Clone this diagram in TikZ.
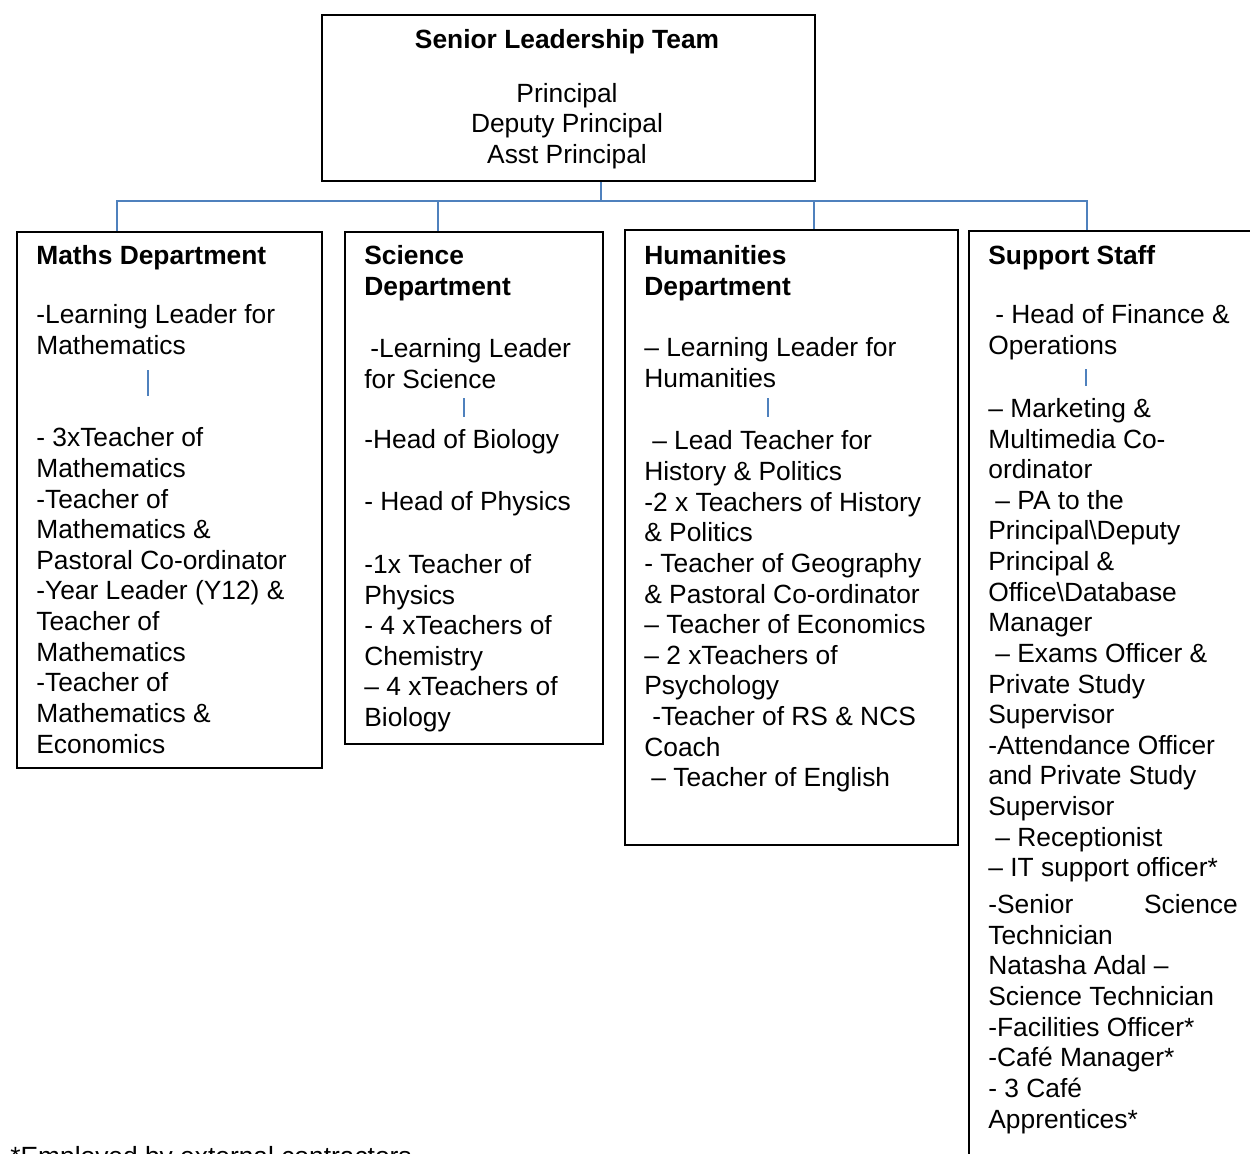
\documentclass[tikz,border=0pt]{standalone}
\usepackage{fontspec}
\setmainfont{Liberation Sans}
\usetikzlibrary{calc, positioning}
\definecolor{linkblue}{HTML}{4F81BD}

\begin{document}
\begin{tikzpicture}[%
    x=0.02cm, y=-0.02cm,     % one unit = one pixel of the layout
    every node/.style={font=\fontsize{15pt}{17.43pt}\selectfont},
    box/.style={draw, line width=1.4pt, anchor=north west, inner sep=0pt},
    txt/.style={anchor=base west, align=left, inner sep=0pt}, % placed at the LAST baseline
    head/.style={txt, font=\fontsize{15pt}{17.43pt}\selectfont\bfseries},
    link/.style={draw=linkblue, line width=1.1pt},
    ]

\useasboundingbox (0,0) rectangle (1250,1153);

%==================================================
% Boxes
%==================================================
\node[box, minimum width=9.86cm, minimum height=3.32cm]  (slt)  at (321,14)  {};
\node[box, minimum width=6.10cm, minimum height=10.72cm] (maths) at (16,231)  {};
\node[box, minimum width=5.16cm, minimum height=10.24cm] (sci)   at (344,231) {};
\node[box, minimum width=6.66cm, minimum height=12.30cm] (hum)   at (624,229) {};
\node[box, minimum width=5.88cm, minimum height=18.90cm] (supp)  at (968,230) {};

%==================================================
% Senior leadership team
%==================================================
\node[anchor=base, font=\fontsize{15pt}{17.43pt}\selectfont\bfseries] (sltT) at (567,48.5) {Senior Leadership Team};
\node[anchor=base, align=center, inner sep=0pt] (sltL) at (567,163.5) {Principal\\ Deputy Principal\\ Asst Principal};

%==================================================
% Maths
%==================================================
\node[head] (mathsT) at (36,264.5) {Maths Department};
\node[txt] (mathsA) at (36,354.25) {-Learning Leader for\\ Mathematics};
\node[txt] (mathsB) at (36,753) {- 3xTeacher of\\ Mathematics\\ -Teacher of\\ Mathematics \&\\ Pastoral Co-ordinator\\ -Year Leader (Y12) \&\\ Teacher of\\ Mathematics\\ -Teacher of\\ Mathematics \&\\ Economics};

%==================================================
% Science
%==================================================
\node[head] (sciT) at (364,295.25) {Science\\ Department};
\node[txt] (sciA) at (364,388.25) {\hspace*{3.4pt}-Learning Leader\\ for Science};
\node[txt] (sciB) at (364,448.5) {-Head of Biology};
\node[txt] (sciC) at (364,510.5) {- Head of Physics};
\node[txt] (sciD) at (364,726.5) {-1x Teacher of\\ Physics\\ - 4 xTeachers of\\ Chemistry\\ – 4 xTeachers of\\ Biology};

%==================================================
% Humanities
%==================================================
\node[head] (humT) at (644,295.25) {Humanities\\ Department};
\node[txt] (humA) at (644,387.25) {– Learning Leader for\\ Humanities};
\node[txt] (humB) at (644,786.75) {\hspace*{4.5pt}– Lead Teacher for\\ History \& Politics\\ -2 x Teachers of History\\ \& Politics\\ - Teacher of Geography\\ \& Pastoral Co-ordinator\\ – Teacher of Economics\\ – 2 xTeachers of\\ Psychology\\ \hspace*{4.5pt}-Teacher of RS \& NCS\\ Coach\\ \hspace*{4pt}– Teacher of English};

%==================================================
% Support staff
%==================================================
\node[head] (suppT) at (988,264.5) {Support Staff};
\node[txt] (suppA) at (988,354.25) {\hspace*{4pt}- Head of Finance \&\\ Operations};
\node[txt] (suppB) at (988,876.75) {– Marketing \&\\ Multimedia Co-\\ ordinator\\ \hspace*{4pt}– PA to the\\ Principal\textbackslash Deputy\\ Principal \&\\ Office\textbackslash Database\\ Manager\\ \hspace*{4pt}– Exams Officer \&\\ Private Study\\ Supervisor\\ -Attendance Officer\\ and Private Study\\ Supervisor\\ \hspace*{4pt}– Receptionist\\ – IT support officer*};
\node[txt] (suppC) at (988,1128) {\hbox to 142pt{-Senior\hfill Science}\\ Technician\\ Natasha Adal –\\ Science Technician\\ -Facilities Officer*\\ -Café Manager*\\ - 3 Café\\ Apprentices*};

% footnote (cut by the page edge)
\node[txt] (note) at (10,1165) {*Employed by external contractors};

%==================================================
% Connectors
%==================================================
\coordinate (hub) at (601,201);
\draw[link] (slt.south -| hub) -- (hub);
\draw[link] (hub) -| ($(maths.north)+(-52.5,0)$);
\draw[link] (hub) -| ($(sci.north)+(-36,0)$);
\draw[link] (hub) -| ($(hum.north)+(22.5,0)$);
\draw[link] (hub) -| ($(supp.north)+(-29,0)$);

% ticks inside the boxes
\draw[link] (148,370) -- (148,396);
\draw[link] (464,398) -- (464,417);
\draw[link] (768,398) -- (768,417);
\draw[link] (1086,369) -- (1086,386);

%==================================================
\end{tikzpicture}
\end{document}
